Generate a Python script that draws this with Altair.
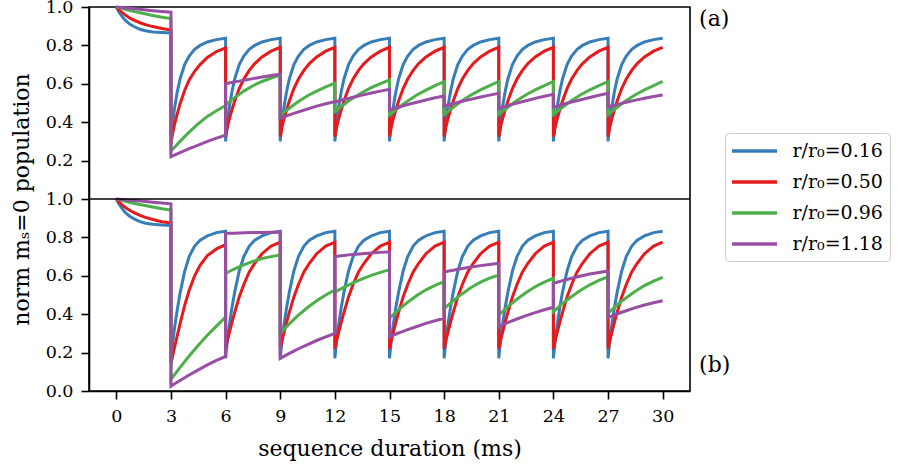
import altair as alt
import pandas as pd

# sample offsets (ms) inside every 3 ms segment: fine sampling for the fast
# curves (r/r0=0.16, 0.50), coarser for the slow ones (0.96, 1.18)
OFFS_FAST = [0, 0.1, 0.2, 0.35, 0.5, 0.75, 1.0, 1.3, 1.6, 2.0, 2.5, 3.0]
OFFS_SLOW = [0, 0.25, 0.5, 0.75, 1.0, 1.5, 2.0, 2.5, 3.0]
SEG_START = [0, 3, 6, 9, 12, 15, 18, 21, 24, 27]
XTICKS = [0, 3, 6, 9, 12, 15, 18, 21, 24, 27, 30]
YTICKS = [0, 0.2, 0.4, 0.6, 0.8, 1.0, 1.2, 1.4, 1.6, 1.8, 2.0]

SERIES = ["r/r₀=0.16", "r/r₀=0.50", "r/r₀=0.96", "r/r₀=1.18"]
COLORS = ["#377eb8", "#e41a1c", "#4daf4a", "#984ea3"]

# ---------- panel (a) ----------
BLUE_A = [
    [1.0, 0.982, 0.966, 0.946, 0.93, 0.91, 0.897, 0.884, 0.876, 0.87, 0.867, 0.865],
    [0.30, 0.40, 0.475, 0.56, 0.625, 0.70, 0.745, 0.78, 0.80, 0.818, 0.83, 0.837],
    [0.30, 0.40, 0.475, 0.56, 0.625, 0.70, 0.745, 0.78, 0.80, 0.818, 0.83, 0.837],
    [0.30, 0.40, 0.475, 0.56, 0.625, 0.70, 0.745, 0.78, 0.80, 0.818, 0.83, 0.837],
    [0.30, 0.40, 0.475, 0.56, 0.625, 0.70, 0.745, 0.78, 0.80, 0.818, 0.83, 0.837],
    [0.30, 0.40, 0.475, 0.56, 0.625, 0.70, 0.745, 0.78, 0.80, 0.818, 0.83, 0.837],
    [0.30, 0.40, 0.475, 0.56, 0.625, 0.70, 0.745, 0.78, 0.80, 0.818, 0.83, 0.837],
    [0.30, 0.40, 0.475, 0.56, 0.625, 0.70, 0.745, 0.78, 0.80, 0.818, 0.83, 0.837],
    [0.30, 0.40, 0.475, 0.56, 0.625, 0.70, 0.745, 0.78, 0.80, 0.818, 0.83, 0.837],
    [0.30, 0.40, 0.475, 0.56, 0.625, 0.70, 0.745, 0.78, 0.80, 0.818, 0.83, 0.837],
]
RED_A = [
    [1.0, 0.99, 0.981, 0.969, 0.958, 0.942, 0.93, 0.918, 0.908, 0.898, 0.888, 0.88],
    [0.29, 0.345, 0.39, 0.445, 0.495, 0.565, 0.62, 0.665, 0.70, 0.737, 0.768, 0.787],
    [0.325, 0.375, 0.415, 0.465, 0.51, 0.575, 0.625, 0.67, 0.705, 0.74, 0.77, 0.79],
    [0.325, 0.375, 0.415, 0.465, 0.51, 0.575, 0.625, 0.67, 0.705, 0.74, 0.77, 0.79],
    [0.325, 0.375, 0.415, 0.465, 0.51, 0.575, 0.625, 0.67, 0.705, 0.74, 0.77, 0.79],
    [0.325, 0.375, 0.415, 0.465, 0.51, 0.575, 0.625, 0.67, 0.705, 0.74, 0.77, 0.79],
    [0.325, 0.375, 0.415, 0.465, 0.51, 0.575, 0.625, 0.67, 0.705, 0.74, 0.77, 0.79],
    [0.325, 0.375, 0.415, 0.465, 0.51, 0.575, 0.625, 0.67, 0.705, 0.74, 0.77, 0.79],
    [0.325, 0.375, 0.415, 0.465, 0.51, 0.575, 0.625, 0.67, 0.705, 0.74, 0.77, 0.79],
    [0.325, 0.375, 0.415, 0.465, 0.51, 0.575, 0.625, 0.67, 0.705, 0.74, 0.77, 0.79],
]
GREEN_A = [
    [1.0, 0.994, 0.988, 0.982, 0.976, 0.966, 0.956, 0.947, 0.94],
    [0.25, 0.275, 0.30, 0.325, 0.348, 0.392, 0.43, 0.46, 0.487],
    [0.49, 0.51, 0.528, 0.545, 0.562, 0.59, 0.612, 0.63, 0.645],
    [0.435, 0.455, 0.473, 0.491, 0.508, 0.538, 0.562, 0.584, 0.603],
    [0.455, 0.474, 0.492, 0.51, 0.526, 0.555, 0.58, 0.601, 0.62],
    [0.438, 0.457, 0.476, 0.494, 0.511, 0.542, 0.567, 0.59, 0.611],
    [0.44, 0.459, 0.478, 0.496, 0.513, 0.543, 0.568, 0.591, 0.612],
    [0.44, 0.459, 0.478, 0.496, 0.513, 0.543, 0.568, 0.591, 0.612],
    [0.44, 0.459, 0.478, 0.496, 0.513, 0.543, 0.568, 0.591, 0.612],
    [0.44, 0.459, 0.478, 0.496, 0.513, 0.543, 0.568, 0.591, 0.612],
]
PURPLE_A = [
    [1.0, 0.998, 0.995, 0.993, 0.991, 0.986, 0.981, 0.977, 0.973],
    [0.22, 0.231, 0.242, 0.252, 0.262, 0.281, 0.30, 0.317, 0.333],
    [0.60, 0.605, 0.61, 0.614, 0.618, 0.627, 0.635, 0.643, 0.65],
    [0.42, 0.429, 0.438, 0.446, 0.454, 0.469, 0.484, 0.496, 0.507],
    [0.505, 0.512, 0.518, 0.524, 0.53, 0.541, 0.552, 0.562, 0.571],
    [0.464, 0.471, 0.478, 0.485, 0.492, 0.504, 0.516, 0.527, 0.536],
    [0.484, 0.491, 0.497, 0.503, 0.509, 0.52, 0.531, 0.541, 0.55],
    [0.472, 0.479, 0.486, 0.493, 0.50, 0.512, 0.524, 0.535, 0.545],
    [0.478, 0.485, 0.492, 0.499, 0.505, 0.517, 0.529, 0.54, 0.55],
    [0.48, 0.486, 0.492, 0.498, 0.504, 0.515, 0.525, 0.534, 0.542],
]

# ---------- panel (b) ----------
BLUE_B = [
    [1.0, 0.982, 0.966, 0.946, 0.929, 0.909, 0.895, 0.882, 0.874, 0.868, 0.864, 0.862],
    [0.16, 0.255, 0.33, 0.425, 0.51, 0.622, 0.70, 0.755, 0.785, 0.808, 0.825, 0.832],
    [0.17, 0.265, 0.34, 0.435, 0.515, 0.625, 0.70, 0.755, 0.785, 0.808, 0.825, 0.832],
    [0.17, 0.265, 0.34, 0.435, 0.515, 0.625, 0.70, 0.755, 0.785, 0.808, 0.825, 0.832],
    [0.17, 0.265, 0.34, 0.435, 0.515, 0.625, 0.70, 0.755, 0.785, 0.808, 0.825, 0.832],
    [0.17, 0.265, 0.34, 0.435, 0.515, 0.625, 0.70, 0.755, 0.785, 0.808, 0.825, 0.832],
    [0.17, 0.265, 0.34, 0.435, 0.515, 0.625, 0.70, 0.755, 0.785, 0.808, 0.825, 0.832],
    [0.17, 0.265, 0.34, 0.435, 0.515, 0.625, 0.70, 0.755, 0.785, 0.808, 0.825, 0.832],
    [0.17, 0.265, 0.34, 0.435, 0.515, 0.625, 0.70, 0.755, 0.785, 0.808, 0.825, 0.832],
    [0.17, 0.265, 0.34, 0.435, 0.515, 0.625, 0.70, 0.755, 0.785, 0.808, 0.825, 0.832],
]
RED_B = [
    [1.0, 0.99, 0.98, 0.967, 0.956, 0.94, 0.928, 0.915, 0.904, 0.893, 0.882, 0.875],
    [0.14, 0.185, 0.228, 0.29, 0.35, 0.445, 0.525, 0.60, 0.655, 0.705, 0.74, 0.762],
    [0.22, 0.265, 0.302, 0.358, 0.41, 0.49, 0.555, 0.62, 0.665, 0.715, 0.755, 0.775],
    [0.22, 0.265, 0.302, 0.358, 0.41, 0.49, 0.555, 0.62, 0.665, 0.715, 0.755, 0.775],
    [0.22, 0.265, 0.302, 0.358, 0.41, 0.49, 0.555, 0.62, 0.665, 0.715, 0.755, 0.775],
    [0.22, 0.265, 0.302, 0.358, 0.41, 0.49, 0.555, 0.62, 0.665, 0.715, 0.755, 0.775],
    [0.22, 0.265, 0.302, 0.358, 0.41, 0.49, 0.555, 0.62, 0.665, 0.715, 0.755, 0.775],
    [0.22, 0.265, 0.302, 0.358, 0.41, 0.49, 0.555, 0.62, 0.665, 0.715, 0.755, 0.775],
    [0.22, 0.265, 0.302, 0.358, 0.41, 0.49, 0.555, 0.62, 0.665, 0.715, 0.755, 0.775],
    [0.22, 0.265, 0.302, 0.358, 0.41, 0.49, 0.555, 0.62, 0.665, 0.715, 0.755, 0.775],
]
GREEN_B = [
    [1.0, 0.994, 0.988, 0.982, 0.977, 0.967, 0.958, 0.949, 0.942],
    [0.06, 0.092, 0.123, 0.153, 0.182, 0.238, 0.29, 0.338, 0.385],
    [0.613, 0.625, 0.636, 0.647, 0.657, 0.675, 0.69, 0.70, 0.708],
    [0.30, 0.325, 0.35, 0.373, 0.395, 0.435, 0.47, 0.50, 0.526],
    [0.515, 0.528, 0.54, 0.552, 0.563, 0.584, 0.602, 0.618, 0.632],
    [0.38, 0.402, 0.423, 0.443, 0.462, 0.497, 0.527, 0.55, 0.57],
    [0.43, 0.45, 0.47, 0.489, 0.507, 0.54, 0.567, 0.588, 0.604],
    [0.396, 0.418, 0.439, 0.459, 0.478, 0.513, 0.543, 0.567, 0.587],
    [0.413, 0.434, 0.455, 0.474, 0.492, 0.525, 0.553, 0.576, 0.595],
    [0.405, 0.427, 0.448, 0.468, 0.486, 0.52, 0.549, 0.572, 0.592],
]
PURPLE_B = [
    [1.0, 0.998, 0.996, 0.994, 0.992, 0.988, 0.983, 0.979, 0.975],
    [0.025, 0.04, 0.055, 0.069, 0.083, 0.11, 0.136, 0.159, 0.18],
    [0.821, 0.822, 0.822, 0.823, 0.824, 0.825, 0.826, 0.827, 0.828],
    [0.17, 0.183, 0.196, 0.208, 0.22, 0.242, 0.263, 0.282, 0.30],
    [0.70, 0.703, 0.706, 0.709, 0.711, 0.715, 0.719, 0.722, 0.725],
    [0.283, 0.293, 0.302, 0.311, 0.32, 0.336, 0.352, 0.366, 0.379],
    [0.62, 0.625, 0.629, 0.634, 0.638, 0.646, 0.653, 0.659, 0.665],
    [0.335, 0.346, 0.356, 0.366, 0.375, 0.393, 0.408, 0.423, 0.436],
    [0.561, 0.568, 0.575, 0.581, 0.587, 0.599, 0.609, 0.617, 0.625],
    [0.382, 0.392, 0.401, 0.41, 0.418, 0.434, 0.448, 0.46, 0.47],
]

PANEL_LABELS = ["(a)", "(b)"]
PANEL_LABEL_T = [32.0, 32.0]
PANEL_LABEL_Y = [1.94, 0.135]  # on the stacked axis (panel a sits on 1..2)

rows = []
for panel, groups in (("a", [BLUE_A, RED_A, GREEN_A, PURPLE_A]),
                      ("b", [BLUE_B, RED_B, GREEN_B, PURPLE_B])):
    for name, offs, segs in zip(SERIES, [OFFS_FAST, OFFS_FAST, OFFS_SLOW, OFFS_SLOW], groups):
        i = 0
        for t0, seg in zip(SEG_START, segs):
            for off, v in zip(offs, seg):
                rows.append({"panel": panel, "series": name, "t": t0 + off, "v": v, "i": i})
                i += 1
df = pd.DataFrame(rows)
lab_df = pd.DataFrame({"lab": PANEL_LABELS, "t": PANEL_LABEL_T, "yc": PANEL_LABEL_Y})
mid_df = pd.DataFrame({"yc": [1.0]})

FONT = "DejaVu Serif"

xscale = alt.Scale(domain=[-1.5, 31.5], nice=False, zero=False)
yscale = alt.Scale(domain=[0, 2], nice=False, zero=False)

XAXIS = alt.Axis(values=XTICKS, title="sequence duration (ms)", format="d",
                 titleFontSize=22, titlePadding=14, labelFontSize=17.5,
                 labelPadding=8, labelOverlap=False)
YAXIS = alt.Axis(values=YTICKS, title="norm mₛ=0 population",
                 labelExpr="datum.value > 1.0001 ? format(datum.value - 1, '.1f') : format(datum.value, '.1f')",
                 titleFontSize=22, titlePadding=12, labelFontSize=17.5,
                 labelPadding=8, labelOverlap=False)

lines = alt.Chart(df).transform_calculate(
    yc="datum.v + (datum.panel === 'a' ? 1 : 0)"
).mark_line(strokeWidth=3).encode(
    x=alt.X("t:Q", scale=xscale, axis=XAXIS),
    y=alt.Y("yc:Q", scale=yscale, axis=YAXIS),
    color=alt.Color("series:N", scale=alt.Scale(domain=SERIES, range=COLORS),
                    legend=alt.Legend(title=None, orient="none", legendX=636, legendY=126,
                                      symbolType="M-2.5,0H2.5", symbolSize=324,
                                      symbolStrokeWidth=3.5, symbolOffset=11.5,
                                      labelOffset=27, labelFont=FONT, labelFontSize=19,
                                      labelColor="black", padding=7, rowPadding=10,
                                      strokeColor="#cccccc", cornerRadius=4,
                                      fillColor="white")),
    detail="panel:N",
    order="i:Q",
)

mid = alt.Chart(mid_df).mark_rule(color="black", strokeWidth=1.6).encode(
    y=alt.Y("yc:Q", scale=yscale, axis=YAXIS)
)

labels = alt.Chart(lab_df).mark_text(align="left", baseline="middle", font=FONT,
                                     fontSize=22, color="black").encode(
    x=alt.X("t:Q", scale=xscale, axis=XAXIS),
    y=alt.Y("yc:Q", scale=yscale, axis=YAXIS),
    text="lab:N",
)

chart = alt.layer(lines, mid, labels).properties(
    width=601, height=384,
    padding={"left": 89, "top": 7, "right": 207, "bottom": 79},
    autosize=alt.AutoSizeParams(type="none"),
).configure_view(
    stroke="black", strokeWidth=1.6
).configure_axis(
    grid=False, domainColor="black", domainWidth=1.6, tickColor="black",
    tickWidth=1.6, tickSize=8, labelFont=FONT, titleFont=FONT,
    labelColor="black", titleColor="black", titleFontWeight="normal"
)

chart.save("out.html", embed_options={"renderer": "svg", "actions": False})
